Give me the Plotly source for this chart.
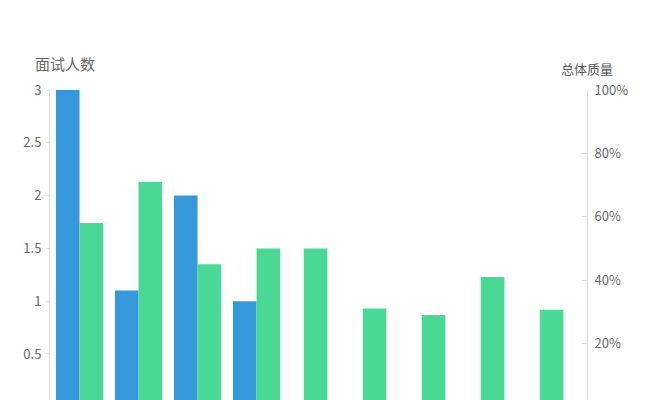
import plotly.graph_objects as go

categories = ["第1周", "第2周", "第3周", "第4周", "第5周", "第6周", "第7周", "第8周", "第9周"]
interview_counts = [3, 1.1, 2, 1, None, None, None, None, None]
overall_quality = [0.58, 0.71, 0.45, 0.50, 0.50, 0.31, 0.29, 0.41, 0.306]

BLUE = "#3598db"
GREEN = "#4ad994"
W = 0.4
green_offsets = [0 if v is not None else -W / 2 for v in interview_counts]

fig = go.Figure()
fig.add_trace(go.Bar(
    x=categories, y=interview_counts, name="面试人数",
    marker=dict(color=BLUE, line=dict(width=0)),
    width=W, offset=-W, yaxis="y",
))
fig.add_trace(go.Bar(
    x=categories, y=overall_quality, name="总体质量",
    marker=dict(color=GREEN, line=dict(width=0)),
    width=W, offset=green_offsets, yaxis="y2",
))

font_family = "Noto Sans CJK SC, Noto Sans, sans-serif"
fig.update_layout(
    width=644, height=392,
    margin=dict(l=42, r=65, t=82, b=0, autoexpand=False),
    paper_bgcolor="white", plot_bgcolor="white",
    showlegend=False,
    barmode="overlay",
    font=dict(family=font_family, color="#666666", size=13),
    xaxis=dict(
        type="category", range=[-0.5, 8.6],
        showticklabels=False, showgrid=False, zeroline=False,
        showline=False, ticks="",
    ),
    yaxis=dict(
        range=[0.064, 3], dtick=0.5, tick0=0,
        showgrid=False, zeroline=False,
        showline=True, linecolor="#e6e0da", linewidth=1,
        ticks="outside", ticklen=3, tickcolor="#e6e0da",
        tickfont=dict(size=13, color="#6a6a6a"),
        ticklabelstandoff=2,
    ),
    yaxis2=dict(
        overlaying="y", side="right",
        range=[0.0215, 1.0], dtick=0.2, tick0=0, tickformat=".0%",
        showgrid=False, zeroline=False,
        showline=True, linecolor="#dddddd", linewidth=1,
        ticks="inside", ticklen=5, tickcolor="#dddddd",
        tickfont=dict(size=13, color="#6a6a6a"),
        ticklabelstandoff=4,
    ),
    annotations=[
        dict(text="面试人数", xref="paper", yref="paper", x=-0.032, y=1.084,
             xanchor="left", yanchor="middle", showarrow=False,
             font=dict(size=15, color="#666666", family=font_family)),
        dict(text="总体质量", xref="paper", yref="paper", x=1.0, y=1.07,
             xanchor="center", yanchor="middle", showarrow=False,
             font=dict(size=13, color="#555555", family=font_family)),
    ],
)

fig.write_html("out.html")
